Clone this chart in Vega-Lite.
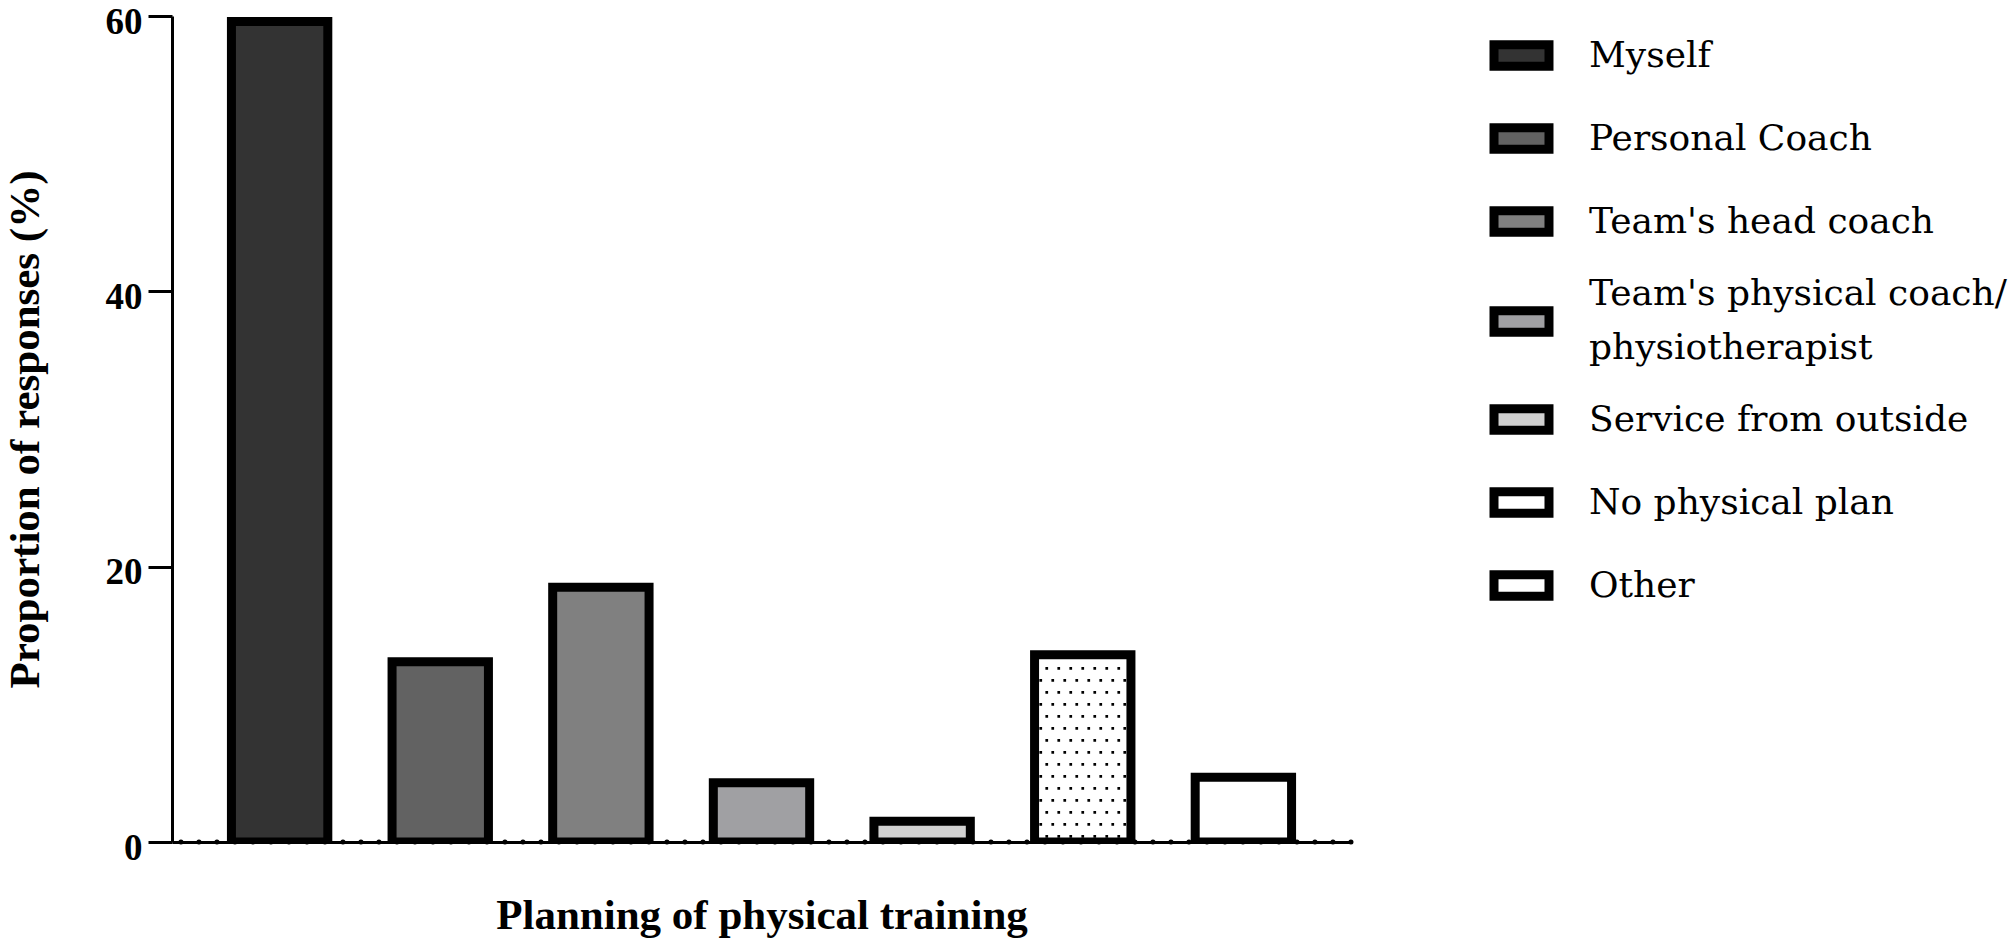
{
  "$schema": "https://vega.github.io/schema/vega-lite/v6.json",
  "width": 1179,
  "height": 826,
  "autosize": "none",
  "padding": {"left": 172, "top": 16, "right": 662, "bottom": 107},
  "background": "white",
  "config": {
    "view": {"stroke": null},
    "style": {"guide-label": {"lineHeight": 54}}
  },
  "data": {
    "values": [
      {"source": "Myself", "pct": 59.6},
      {"source": "Personal Coach", "pct": 13.1},
      {"source": "Team's head coach", "pct": 18.5},
      {"source": "Team's physical coach/physiotherapist", "pct": 4.3},
      {"source": "Service from outside", "pct": 1.5},
      {"source": "No physical plan", "pct": 13.6},
      {"source": "Other", "pct": 4.7}
    ]
  },
  "layer": [
    {
      "mark": {"type": "bar", "stroke": "black", "strokeWidth": 9, "strokeJoin": "miter", "clip": true},
      "encoding": {
        "x": {
          "field": "source", "type": "nominal", "sort": null,
          "scale": {"paddingInner": 0.4, "paddingOuter": 0.37},
          "axis": {
            "title": "Planning of physical training", "labels": false, "ticks": false,
            "domainWidth": 3, "domainColor": "black", "zindex": 1,
            "titleFont": "Liberation Serif", "titleFontWeight": "bold", "titleFontSize": 43,
            "titleColor": "black", "titlePadding": 52
          }
        },
        "y": {
          "field": "pct", "type": "quantitative",
          "scale": {"domain": [0, 60], "nice": false},
          "axis": {
            "title": "Proportion of responses (%)", "values": [0, 20, 40, 60], "grid": false,
            "tickSize": 24, "tickWidth": 3, "tickColor": "black",
            "domainWidth": 3, "domainColor": "black",
            "labelFont": "Liberation Serif", "labelFontWeight": "bold", "labelFontSize": 37,
            "labelColor": "black", "labelPadding": 6, "labelOffset": 6,
            "titleFont": "Liberation Serif", "titleFontWeight": "bold", "titleFontSize": 43,
            "titleColor": "black", "titlePadding": 58
          }
        },
        "fill": {
          "field": "source", "type": "nominal", "sort": null,
          "scale": {
            "domain": ["Myself", "Personal Coach", "Team's head coach", "Team's physical coach/physiotherapist", "Service from outside", "No physical plan", "Other"],
            "range": ["#333333", "#626262", "#808080", "#a0a0a3", "#d1d1d1", "#ffffff", "#ffffff"]
          },
          "legend": {
            "orient": "none", "legendX": 1331, "legendY": 21, "title": null, "padding": 0,
            "labelFont": "DejaVu Serif", "labelFontSize": 36, "labelColor": "black",
            "labelOffset": 49, "labelLimit": 800,
            "labelBaseline": {"expr": "datum.label == \"Team's physical coach/physiotherapist\" ? 'line-bottom' : 'middle'"},
            "symbolType": "M-2,-0.78H2V0.78H-2Z", "symbolSize": 756,
            "symbolStrokeColor": "black", "symbolStrokeWidth": 9, "symbolOpacity": 1,
            "rowPadding": 24,
            "labelExpr": "datum.label == \"Team's physical coach/physiotherapist\" ? [\"Team's physical coach/\", \"physiotherapist\"] : datum.label"
          }
        }
      }
    },
    {
      "transform": [{"filter": "datum.source == 'No physical plan'"}],
      "encoding": {
        "x": {"field": "source", "type": "nominal", "sort": null},
        "y": {"field": "pct", "type": "quantitative"},
        "y2": {"datum": 0}
      },
      "layer": [
        {"mark": {"type": "rule", "xOffset": -42, "strokeWidth": 2.7, "strokeDash": [2.7, 21.3], "strokeDashOffset": 23.8, "color": "black"}},
        {"mark": {"type": "rule", "xOffset": -36, "strokeWidth": 2.7, "strokeDash": [2.7, 21.3], "strokeDashOffset": 11.8, "color": "black"}},
        {"mark": {"type": "rule", "xOffset": -30, "strokeWidth": 2.7, "strokeDash": [2.7, 21.3], "strokeDashOffset": 23.8, "color": "black"}},
        {"mark": {"type": "rule", "xOffset": -24, "strokeWidth": 2.7, "strokeDash": [2.7, 21.3], "strokeDashOffset": 11.8, "color": "black"}},
        {"mark": {"type": "rule", "xOffset": -18, "strokeWidth": 2.7, "strokeDash": [2.7, 21.3], "strokeDashOffset": 23.8, "color": "black"}},
        {"mark": {"type": "rule", "xOffset": -12, "strokeWidth": 2.7, "strokeDash": [2.7, 21.3], "strokeDashOffset": 11.8, "color": "black"}},
        {"mark": {"type": "rule", "xOffset": -6, "strokeWidth": 2.7, "strokeDash": [2.7, 21.3], "strokeDashOffset": 23.8, "color": "black"}},
        {"mark": {"type": "rule", "xOffset": 0, "strokeWidth": 2.7, "strokeDash": [2.7, 21.3], "strokeDashOffset": 11.8, "color": "black"}},
        {"mark": {"type": "rule", "xOffset": 6, "strokeWidth": 2.7, "strokeDash": [2.7, 21.3], "strokeDashOffset": 23.8, "color": "black"}},
        {"mark": {"type": "rule", "xOffset": 12, "strokeWidth": 2.7, "strokeDash": [2.7, 21.3], "strokeDashOffset": 11.8, "color": "black"}},
        {"mark": {"type": "rule", "xOffset": 18, "strokeWidth": 2.7, "strokeDash": [2.7, 21.3], "strokeDashOffset": 23.8, "color": "black"}},
        {"mark": {"type": "rule", "xOffset": 24, "strokeWidth": 2.7, "strokeDash": [2.7, 21.3], "strokeDashOffset": 11.8, "color": "black"}},
        {"mark": {"type": "rule", "xOffset": 30, "strokeWidth": 2.7, "strokeDash": [2.7, 21.3], "strokeDashOffset": 23.8, "color": "black"}},
        {"mark": {"type": "rule", "xOffset": 36, "strokeWidth": 2.7, "strokeDash": [2.7, 21.3], "strokeDashOffset": 11.8, "color": "black"}},
        {"mark": {"type": "rule", "xOffset": 42, "strokeWidth": 2.7, "strokeDash": [2.7, 21.3], "strokeDashOffset": 23.8, "color": "black"}}
      ]
    },
    {
      "data": {"values": [{}]},
      "mark": {"type": "rule", "strokeWidth": 5, "strokeDash": [0.1, 17.9], "strokeCap": "round", "color": "black"},
      "encoding": {"y": {"datum": 0}}
    }
  ]
}
